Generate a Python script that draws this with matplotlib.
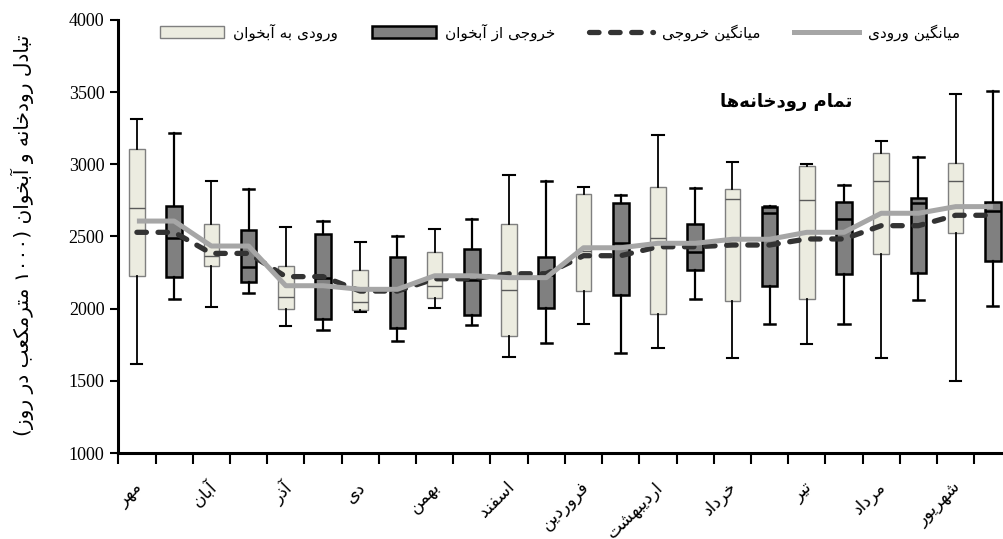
import matplotlib
matplotlib.use('Agg')
import matplotlib.pyplot as plt
from matplotlib.patches import Patch
from matplotlib.lines import Line2D

plt.rcParams['font.family'] = ['Liberation Serif', 'DejaVu Sans']

# ---- data ----
months = ['مهر', 'آبان', 'آذر', 'دی', 'بهمن', 'اسفند',
          'فروردین', 'اردیبهشت', 'خرداد', 'تیر', 'مرداد', 'شهریور']

# inflow to aquifer (light boxes)
in_lo  = [1617, 2009, 1880, 1977, 2005, 1663, 1896, 1727, 1658, 1757, 1658, 1501]
in_q1  = [2228, 2296, 1998, 1989, 2074, 1808, 2122, 1963, 2053, 2065, 2381, 2522]
in_med = [2695, 2365, 2081, 2046, 2155, 2127, 2400, 2490, 2760, 2750, 2885, 2882]
in_q3  = [3106, 2584, 2296, 2266, 2393, 2589, 2797, 2841, 2827, 2989, 3081, 3009]
in_hi  = [3312, 2887, 2564, 2460, 2552, 2929, 2845, 3205, 3016, 3002, 3164, 3490]

# outflow from aquifer (dark boxes)
out_lo  = [2069, 2109, 1854, 1774, 1887, 1765, 1693, 2069, 1896, 1894, 2060, 2021]
out_q1  = [2221, 2187, 1931, 1866, 1958, 2007, 2097, 2268, 2159, 2242, 2245, 2330]
out_med = [2492, 2287, 2210, 2130, 2200, 2230, 2457, 2391, 2663, 2621, 2734, 2677]
out_q3  = [2713, 2547, 2520, 2356, 2416, 2356, 2734, 2589, 2702, 2739, 2765, 2741]
out_hi  = [3219, 2829, 2607, 2506, 2621, 2882, 2788, 2836, 2711, 2857, 3053, 3506]

mean_in  = [2607, 2434, 2159, 2134, 2228, 2215, 2422, 2453, 2481, 2529, 2661, 2707]
mean_out = [2529, 2383, 2222, 2122, 2207, 2242, 2367, 2429, 2441, 2483, 2575, 2647]


# ---- tiny arabic/persian shaper (matplotlib does no shaping) ----
FORMS = {
    'ا': ('\uFE8D', '\uFE8E', None, None),
    'آ': ('\uFE81', '\uFE82', None, None),
    'ب': ('\uFE8F', '\uFE90', '\uFE91', '\uFE92'),
    'ت': ('\uFE95', '\uFE96', '\uFE97', '\uFE98'),
    'ج': ('\uFE9D', '\uFE9E', '\uFE9F', '\uFEA0'),
    'خ': ('\uFEA5', '\uFEA6', '\uFEA7', '\uFEA8'),
    'د': ('\uFEA9', '\uFEAA', None, None),
    'ذ': ('\uFEAB', '\uFEAC', None, None),
    'ر': ('\uFEAD', '\uFEAE', None, None),
    'ز': ('\uFEAF', '\uFEB0', None, None),
    'س': ('\uFEB1', '\uFEB2', '\uFEB3', '\uFEB4'),
    'ش': ('\uFEB5', '\uFEB6', '\uFEB7', '\uFEB8'),
    'ع': ('\uFEC9', '\uFECA', '\uFECB', '\uFECC'),
    'ف': ('\uFED1', '\uFED2', '\uFED3', '\uFED4'),
    'ل': ('\uFEDD', '\uFEDE', '\uFEDF', '\uFEE0'),
    'م': ('\uFEE1', '\uFEE2', '\uFEE3', '\uFEE4'),
    'ن': ('\uFEE5', '\uFEE6', '\uFEE7', '\uFEE8'),
    'ه': ('\uFEE9', '\uFEEA', '\uFEEB', '\uFEEC'),
    'و': ('\uFEED', '\uFEEE', None, None),
    'ک': ('\uFB8E', '\uFB8F', '\uFB90', '\uFB91'),
    'گ': ('\uFB92', '\uFB93', '\uFB94', '\uFB95'),
    'ی': ('\uFBFC', '\uFBFD', '\uFBFE', '\uFBFF'),
}
DIGITS = '0123456789۰۱۲۳۴۵۶۷۸۹'


def fa(s):
    out = []
    for i, ch in enumerate(s):
        if ch not in FORMS:
            if ch != '\u200c':
                out.append(ch)
            continue
        prv = s[i - 1] if i > 0 else ''
        nxt = s[i + 1] if i + 1 < len(s) else ''
        pj = prv in FORMS and FORMS[prv][2] is not None
        nj = FORMS[ch][2] is not None and nxt in FORMS
        f = FORMS[ch]
        if pj and nj:
            out.append(f[3])
        elif pj:
            out.append(f[1])
        elif nj:
            out.append(f[2])
        else:
            out.append(f[0])
    # visual order: reverse, keep digit runs, mirror parens
    toks = []
    for ch in out:
        if ch in DIGITS and toks and toks[-1][-1] in DIGITS:
            toks[-1] += ch
        else:
            toks.append(ch)
    mirror = {'(': ')', ')': '('}
    return ''.join(mirror.get(t, t) for t in reversed(toks))


FA = 'DejaVu Sans'

fig = plt.figure(figsize=(10.04, 5.39), dpi=100)
ax = fig.add_axes([118.3 / 1004, 86 / 539, 893.2 / 1004, 433 / 539])

n = len(months)
pos_in = [2 * i for i in range(n)]
pos_out = [2 * i + 1 for i in range(n)]

stats_in = [dict(whislo=a, q1=b, med=c, q3=d, whishi=e)
            for a, b, c, d, e in zip(in_lo, in_q1, in_med, in_q3, in_hi)]
stats_out = [dict(whislo=a, q1=b, med=c, q3=d, whishi=e)
             for a, b, c, d, e in zip(out_lo, out_q1, out_med, out_q3, out_hi)]

ax.bxp(stats_in, positions=pos_in, widths=0.42, showfliers=False, patch_artist=True,
       boxprops=dict(facecolor='#ECECE0', edgecolor='#7F7F7F', linewidth=1.0),
       medianprops=dict(color='#5A5A5A', linewidth=1.0),
       whiskerprops=dict(color='black', linewidth=1.3),
       capprops=dict(color='black', linewidth=1.5), capwidths=0.3)
ax.bxp(stats_out, positions=pos_out, widths=0.42, showfliers=False, patch_artist=True,
       boxprops=dict(facecolor='#808080', edgecolor='black', linewidth=1.8),
       medianprops=dict(color='black', linewidth=1.8),
       whiskerprops=dict(color='black', linewidth=1.6),
       capprops=dict(color='black', linewidth=1.8), capwidths=0.3)

xs = list(range(2 * n))
mo = [v for v in mean_out for _ in range(2)]
mi = [v for v in mean_in for _ in range(2)]
ax.plot(xs, mo, color='#333333', lw=3.8, dashes=(1.8, 2.2),
        dash_capstyle='round', solid_joinstyle='round', zorder=4)
ax.plot(xs, mi, color='#A6A6A6', lw=3.6, solid_capstyle='butt',
        solid_joinstyle='round', zorder=5)

ax.set_xlim(-0.5, 2 * n - 0.5)
ax.set_ylim(1000, 4000)
ax.set_yticks(range(1000, 4001, 500))
ax.tick_params(axis='y', labelsize=13, length=6, width=1.5, direction='out', pad=4)

ax.set_xticks([i + 0.5 for i in range(-1, 2 * n)])
ax.set_xticklabels([])
ax.tick_params(axis='x', length=8, width=1.5, direction='out')
for i, m in enumerate(months):
    ax.annotate(fa(m), xy=(2 * i, 0), xycoords=('data', 'axes fraction'),
                xytext=(-3, -18), textcoords='offset points',
                rotation=45, rotation_mode='anchor', ha='right', va='top',
                fontsize=12.5, family=FA)

for s in ['top', 'right']:
    ax.spines[s].set_visible(False)
for s in ['left', 'bottom']:
    ax.spines[s].set_linewidth(2.2)

fig.text(22 / 1004, 1 - 235 / 539, fa('تبادل رودخانه و آبخوان (۱۰۰۰ مترمکعب در روز)'),
         rotation=90, ha='center', va='center', fontsize=14.5, family=FA)

fig.text(786 / 1004, 1 - 102 / 539, fa('تمام رودخانه‌ها'), fontsize=13,
         fontweight='bold', family=FA, ha='center', va='center')

handles = [
    Patch(facecolor='#ECECE0', edgecolor='#7F7F7F', linewidth=1.0),
    Patch(facecolor='#808080', edgecolor='black', linewidth=1.8),
    Line2D([], [], color='#333333', lw=3.8, dashes=(1.8, 2.2), dash_capstyle='round'),
    Line2D([], [], color='#A6A6A6', lw=3.6),
]
labels = [fa('ورودی به آبخوان'), fa('خروجی از آبخوان'),
          fa('میانگین خروجی'), fa('میانگین ورودی')]
fig.legend(handles, labels, loc='center', bbox_to_anchor=(560 / 1004, 1 - 32 / 539),
           ncol=4, frameon=False, prop=dict(family=FA, size=11),
           handlelength=4.2, handleheight=0.75, handletextpad=0.6,
           columnspacing=2.2, borderpad=0)

fig.savefig('out.png', dpi=100)
